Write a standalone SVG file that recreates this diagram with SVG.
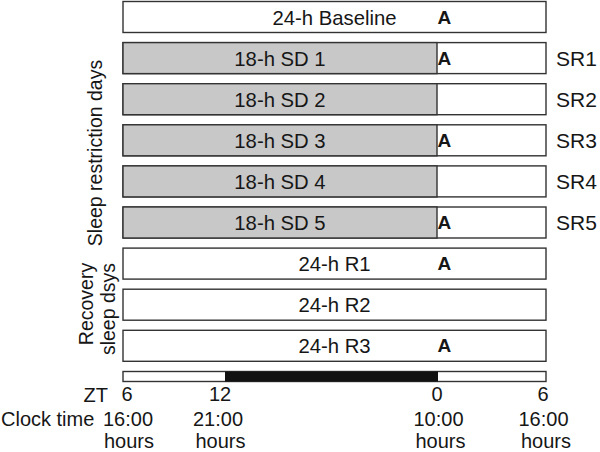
<svg xmlns="http://www.w3.org/2000/svg" width="600" height="452" viewBox="0 0 600 452">
<style>
  text { font-family: "Liberation Sans", Arial, sans-serif; fill: #161616; }
  .bar { fill: #ffffff; stroke: #333333; stroke-width: 1.4; }
  .sd { fill: #c8c8c8; stroke: #333333; stroke-width: 1.4; }
  .lbl { font-size: 20.3px; text-anchor: middle; }
  .a { font-size: 19px; font-weight: bold; }
  .sr { font-size: 21px; }
  .ax { font-size: 20px; text-anchor: middle; }
  .side { font-size: 19.5px; text-anchor: middle; }
</style>
<rect width="600" height="452" fill="#ffffff"/>

<g id="baseline">
  <rect class="bar" x="123" y="1.5" width="423" height="31"/>
  <text class="lbl" x="334.5" y="24.5">24-h Baseline</text>
  <text class="a" x="437.5" y="23.5">A</text>
</g>

<g id="sd1">
  <rect class="bar" x="123" y="42.6" width="423" height="31"/>
  <rect class="sd" x="123" y="42.6" width="314" height="31"/>
  <text class="lbl" x="280" y="65.6">18-h SD 1</text>
  <text class="a" x="437.5" y="64.6">A</text>
  <text class="sr" x="556" y="65.6">SR1</text>
</g>

<g id="sd2">
  <rect class="bar" x="123" y="83.7" width="423" height="31"/>
  <rect class="sd" x="123" y="83.7" width="314" height="31"/>
  <text class="lbl" x="280" y="106.7">18-h SD 2</text>
  <text class="sr" x="556" y="106.7">SR2</text>
</g>

<g id="sd3">
  <rect class="bar" x="123" y="124.8" width="423" height="31"/>
  <rect class="sd" x="123" y="124.8" width="314" height="31"/>
  <text class="lbl" x="280" y="147.8">18-h SD 3</text>
  <text class="a" x="437.5" y="146.8">A</text>
  <text class="sr" x="556" y="147.8">SR3</text>
</g>

<g id="sd4">
  <rect class="bar" x="123" y="165.9" width="423" height="31"/>
  <rect class="sd" x="123" y="165.9" width="314" height="31"/>
  <text class="lbl" x="280" y="188.9">18-h SD 4</text>
  <text class="sr" x="556" y="188.9">SR4</text>
</g>

<g id="sd5">
  <rect class="bar" x="123" y="207" width="423" height="31"/>
  <rect class="sd" x="123" y="207" width="314" height="31"/>
  <text class="lbl" x="280" y="230">18-h SD 5</text>
  <text class="a" x="437.5" y="229">A</text>
  <text class="sr" x="556" y="230">SR5</text>
</g>

<g id="r1">
  <rect class="bar" x="123" y="248.1" width="423" height="31"/>
  <text class="lbl" x="334.5" y="271.1">24-h R1</text>
  <text class="a" x="437.5" y="270.1">A</text>
</g>

<g id="r2">
  <rect class="bar" x="123" y="289.2" width="423" height="31"/>
  <text class="lbl" x="334.5" y="312.2">24-h R2</text>
</g>

<g id="r3">
  <rect class="bar" x="123" y="330.3" width="423" height="31"/>
  <text class="lbl" x="334.5" y="353.3">24-h R3</text>
  <text class="a" x="437.5" y="352.3">A</text>
</g>

<g id="side-labels">
  <text class="side" transform="translate(102,153) rotate(-90)">Sleep restriction days</text>
  <text class="side" transform="translate(92.5,304) rotate(-90)">Recovery</text>
  <text class="side" transform="translate(114.5,309) rotate(-90)">sleep dsys</text>
</g>

<g id="timeline">
  <rect x="123" y="371.5" width="423" height="10" fill="#ffffff" stroke="#333333" stroke-width="1.4"/>
  <rect x="225" y="371.5" width="213" height="10" fill="#111111"/>
</g>

<g id="axis-labels">
  <text x="83.5" y="401.5" font-size="20">ZT</text>
  <text class="ax" x="127" y="401">6</text>
  <text class="ax" x="220" y="401">12</text>
  <text class="ax" x="437" y="401">0</text>
  <text class="ax" x="543" y="401">6</text>
  <text x="1" y="425.5" font-size="20">Clock time</text>
  <text class="ax" x="128" y="426">16:00</text>
  <text class="ax" x="218" y="426">21:00</text>
  <text class="ax" x="438.5" y="426">10:00</text>
  <text class="ax" x="543.5" y="426">16:00</text>
  <text class="ax" x="129" y="447.5">hours</text>
  <text class="ax" x="220.5" y="447.5">hours</text>
  <text class="ax" x="440.5" y="447.5">hours</text>
  <text class="ax" x="546" y="447.5">hours</text>
</g>
</svg>
